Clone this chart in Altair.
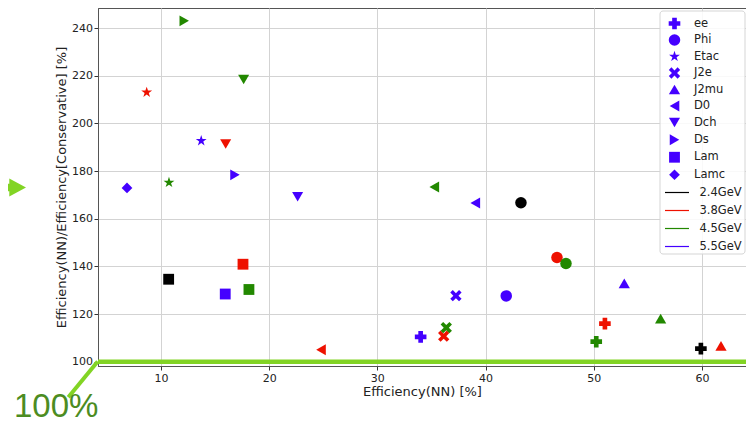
import altair as alt
import pandas as pd

# ---- data ----
particles = ["ee", "Phi", "Etac", "J2e", "J2mu", "D0", "Dch", "Ds", "Lam", "Lamc"]
energies = ["2.4GeV", "3.8GeV", "4.5GeV", "5.5GeV"]
energy_colors = ["#000000", "#ee1100", "#228800", "#4400ff"]

pt_particle = ["ee", "ee", "ee", "ee",
               "Phi", "Phi", "Phi", "Phi",
               "Etac", "Etac", "Etac",
               "J2e", "J2e", "J2e",
               "J2mu", "J2mu", "J2mu",
               "D0", "D0", "D0",
               "Dch", "Dch", "Dch",
               "Ds", "Ds",
               "Lam", "Lam", "Lam", "Lam",
               "Lamc"]
pt_energy = ["2.4GeV", "3.8GeV", "4.5GeV", "5.5GeV",
             "2.4GeV", "3.8GeV", "4.5GeV", "5.5GeV",
             "3.8GeV", "4.5GeV", "5.5GeV",
             "3.8GeV", "4.5GeV", "5.5GeV",
             "3.8GeV", "4.5GeV", "5.5GeV",
             "3.8GeV", "4.5GeV", "5.5GeV",
             "3.8GeV", "4.5GeV", "5.5GeV",
             "4.5GeV", "5.5GeV",
             "2.4GeV", "3.8GeV", "4.5GeV", "5.5GeV",
             "5.5GeV"]
eff_nn = [59.9, 51.03, 50.23, 34.0,
          43.27, 46.6, 47.43, 41.91,
          8.68, 10.74, 13.72,
          36.13, 36.37, 37.26,
          61.76, 56.18, 52.82,
          24.79, 35.26, 39.05,
          15.98, 17.64, 22.63,
          12.15, 16.84,
          10.71, 17.58, 18.13, 15.94,
          6.86]
ratio = [105.5, 116.0, 108.4, 110.4,
         166.7, 143.7, 141.2, 127.6,
         213.0, 175.2, 192.7,
         110.7, 114.3, 127.7,
         106.6, 118.1, 132.9,
         105.0, 173.3, 166.6,
         191.3, 218.4, 169.2,
         243.0, 178.4,
         134.6, 140.9, 130.3, 128.4,
         172.9]

x_ticks = [10, 20, 30, 40, 50, 60]
y_ticks = [100, 120, 140, 160, 180, 200, 220, 240]

df = pd.DataFrame({"particle": pt_particle, "energy": pt_energy,
                   "x": eff_nn, "y": ratio})

STAR = ("M0,-1L0.225,-0.309L0.951,-0.309L0.363,0.118L0.588,0.809L0,0.382"
        "L-0.588,0.809L-0.363,0.118L-0.951,-0.309L-0.225,-0.309Z")
XSHAPE = ("M-1,-0.55L-0.55,-1L0,-0.45L0.55,-1L1,-0.55L0.45,0L1,0.55L0.55,1L0,0.45"
          "L-0.55,1L-1,0.55L-0.45,0Z")
shapes = ["cross", "circle", STAR, XSHAPE, "triangle-up", "triangle-left",
          "triangle-down", "triangle-right", "square", "diamond"]
marker_sizes = [135, 115, 180, 120, 160, 160, 160, 160, 120, 210]

W, H = 648, 358
FONT = "DejaVu Sans"
BLUE = "#4400ff"
LIME = "#82d424"

xscale = alt.Scale(domain=[4.18, 64.07], nice=False, zero=False)
yscale = alt.Scale(domain=[98.2, 248.4], nice=False, zero=False)
cscale = alt.Scale(domain=energies, range=energy_colors)

one = alt.Data(values=[{}])

frame = alt.Chart(one).mark_rect(
    fill="white", fillOpacity=0.85, stroke="#d5d5d5", strokeWidth=1, cornerRadius=3
).encode(x=alt.value(562), x2=alt.value(647), y=alt.value(3), y2=alt.value(246))

energy_legend = alt.Legend(
    title=None, orient="none", legendX=572, legendY=177.5,
    symbolType="M-2,0L2,0", symbolSize=144, symbolStrokeWidth=1.2,
    labelOffset=15.5, rowPadding=5,
    labelFontSize=11.5, labelFont=FONT, labelColor="#222", padding=0)

particle_legend = alt.Legend(
    title=None, orient="none", legendX=570.5, legendY=9.5,
    labelOffset=13.5, rowPadding=4.5,
    symbolFillColor=BLUE, symbolStrokeColor=BLUE,
    symbolStrokeWidth=0, symbolOpacity=1,
    labelFontSize=11.5, labelFont=FONT, labelColor="#222", padding=0)

points = alt.Chart(df).mark_point(filled=True, opacity=1, strokeWidth=0).encode(
    x=alt.X("x:Q", scale=xscale,
            axis=alt.Axis(title="Efficiency(NN) [%]", values=x_ticks, format="d")),
    y=alt.Y("y:Q", scale=yscale,
            axis=alt.Axis(title="Efficiency(NN)/Efficiency[Conservative] [%]",
                          values=y_ticks, format="d")),
    shape=alt.Shape("particle:N", scale=alt.Scale(domain=particles, range=shapes),
                    legend=particle_legend),
    size=alt.Size("particle:N", scale=alt.Scale(domain=particles, range=marker_sizes),
                  legend=particle_legend),
    fill=alt.Fill("energy:N", scale=cscale, legend=energy_legend),
    stroke=alt.Stroke("energy:N", scale=cscale, legend=energy_legend),
)

hline = alt.Chart(one).mark_rule(color=LIME, strokeWidth=4.5).encode(
    y=alt.datum(100), x=alt.value(0), x2=alt.value(W))
diag = alt.Chart(one).mark_rule(color=LIME, strokeWidth=4).encode(
    x=alt.value(-0.3), y=alt.value(353.5), x2=alt.value(-29.7), y2=alt.value(389.3))

ARROW = "M-1,-0.29L-0.285,-0.29L-0.285,-0.69L1,0L-0.285,0.69L-0.285,0.29L-1,0.29Z"
arrow = alt.Chart(one).mark_point(
    shape=ARROW, filled=True, color=LIME, opacity=1, size=676
).encode(x=alt.value(-85), y=alt.value(179.5))

label100 = alt.Chart(one).mark_text(
    text="100%", align="left", baseline="alphabetic", fontSize=33,
    font="Liberation Sans", color="#4c8c22"
).encode(x=alt.value(-84), y=alt.value(409))

chart = alt.layer(frame, points, hline, diag, arrow, label100).properties(
    width=W, height=H,
    autosize=alt.AutoSizeParams(type="none"),
    padding={"left": 90, "top": 0, "right": 0, "bottom": 58},
).configure_view(
    stroke="#555555", strokeWidth=1
).configure_axis(
    grid=True, gridColor="#d3d3d3", gridWidth=1,
    domainColor="#555555", domainWidth=1,
    tickColor="#333333", tickSize=4, tickWidth=1,
    labelFont=FONT, labelFontSize=11, labelColor="#222222", labelPadding=2,
    titleFont=FONT, titleFontSize=13, titleFontWeight="normal", titleColor="#222222",
).configure_axisY(titlePadding=3, labelPadding=1.5).configure_axisX(titlePadding=2)

chart.save("out.html", embed_options={"renderer": "svg", "actions": False})
